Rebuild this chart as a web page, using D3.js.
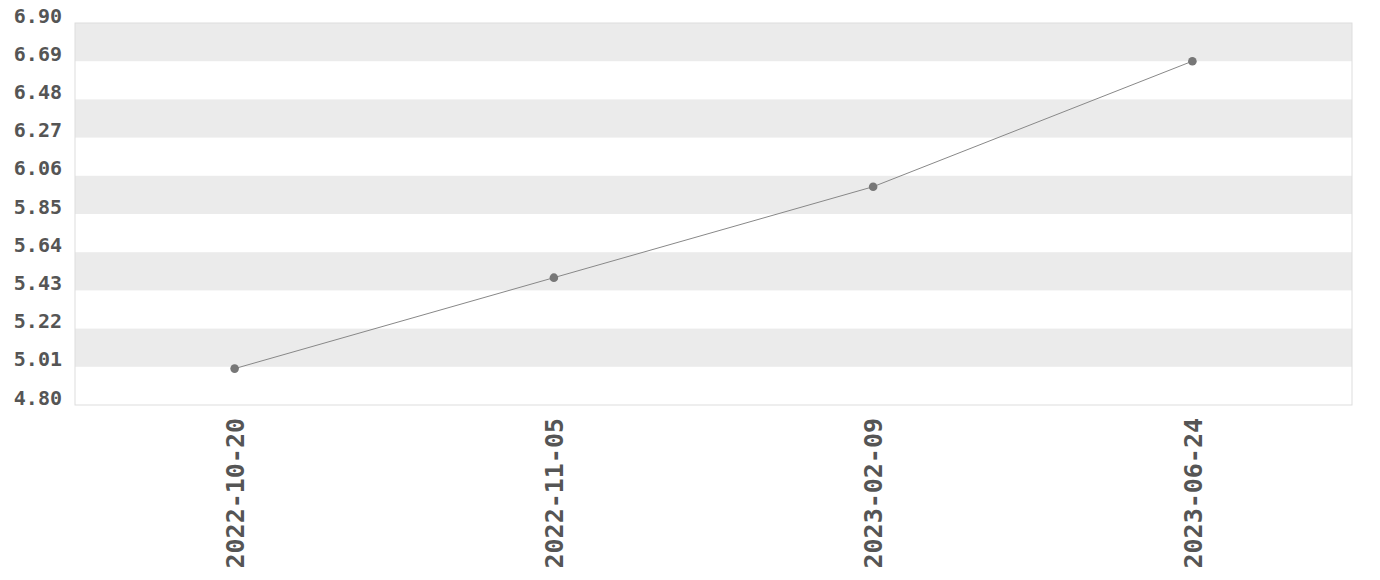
<!DOCTYPE html>
<html>
<head>
<meta charset="utf-8">
<script src="https://cdn.jsdelivr.net/npm/d3@7"></script>
<style>
  body { margin: 0; background: #fff; }
  text { font-family: "DejaVu Sans Mono", monospace; font-weight: bold; fill: #555; }
</style>
</head>
<body>
<div id="chart"></div>
<script>
// data
const dates = ['2022-10-20', '2022-11-05', '2023-02-09', '2023-06-24'];
const values = [5.0, 5.5, 6.0, 6.69];
const yTicks = [4.80, 5.01, 5.22, 5.43, 5.64, 5.85, 6.06, 6.27, 6.48, 6.69, 6.90];

const width = 1380,
  height = 580;
const margin = { top: 23, right: 28, bottom: 175, left: 75 };
const innerW = width - margin.left - margin.right,
  innerH = height - margin.top - margin.bottom;

const svg = d3
  .select('#chart')
  .append('svg')
  .attr('width', width)
  .attr('height', height);

const g = svg.append('g').attr('transform', `translate(${margin.left},${margin.top})`);

const x = d3.scalePoint().domain(dates).range([0, innerW]).padding(0.5);
const y = d3.scaleLinear().domain([4.80, 6.90]).range([innerH, 0]);

// alternating bands, top one grey
const bands = d3.pairs(yTicks).filter((d, i) => i % 2 === 1);
g.selectAll('rect.band')
  .data(bands)
  .join('rect')
  .attr('class', 'band')
  .attr('x', 0)
  .attr('width', innerW)
  .attr('y', (d) => y(d[1]))
  .attr('height', (d) => y(d[0]) - y(d[1]))
  .attr('fill', '#ebebeb');

// frame
g.append('rect')
  .attr('width', innerW)
  .attr('height', innerH)
  .attr('fill', 'none')
  .attr('stroke', '#dddddd');

// y axis
const yAxis = g.append('g').call(
  d3.axisLeft(y).tickValues(yTicks).tickFormat(d3.format('.2f')).tickSize(0).tickPadding(13)
);
yAxis.select('.domain').remove();
yAxis.selectAll('text').style('font-size', '20px').attr('dy', '-0.05em');

// x axis
const xAxis = g
  .append('g')
  .attr('transform', `translate(0,${innerH})`)
  .call(d3.axisBottom(x).tickSize(0));
xAxis.select('.domain').remove();
xAxis
  .selectAll('text')
  .style('font-size', '25px')
  .attr('text-anchor', 'end')
  .attr('transform', 'rotate(-90)')
  .attr('x', -13)
  .attr('y', 0)
  .attr('dy', '0.35em');

// line
const rows = dates.map((d, i) => ({ date: d, value: values[i] }));
g.append('path')
  .datum(rows)
  .attr('fill', 'none')
  .attr('stroke', '#888')
  .attr('stroke-width', 1)
  .attr('d', d3.line().x((d) => x(d.date)).y((d) => y(d.value)));

g.selectAll('circle')
  .data(rows)
  .join('circle')
  .attr('cx', (d) => x(d.date))
  .attr('cy', (d) => y(d.value))
  .attr('r', 4.3)
  .attr('fill', '#777');
</script>
</body>
</html>
